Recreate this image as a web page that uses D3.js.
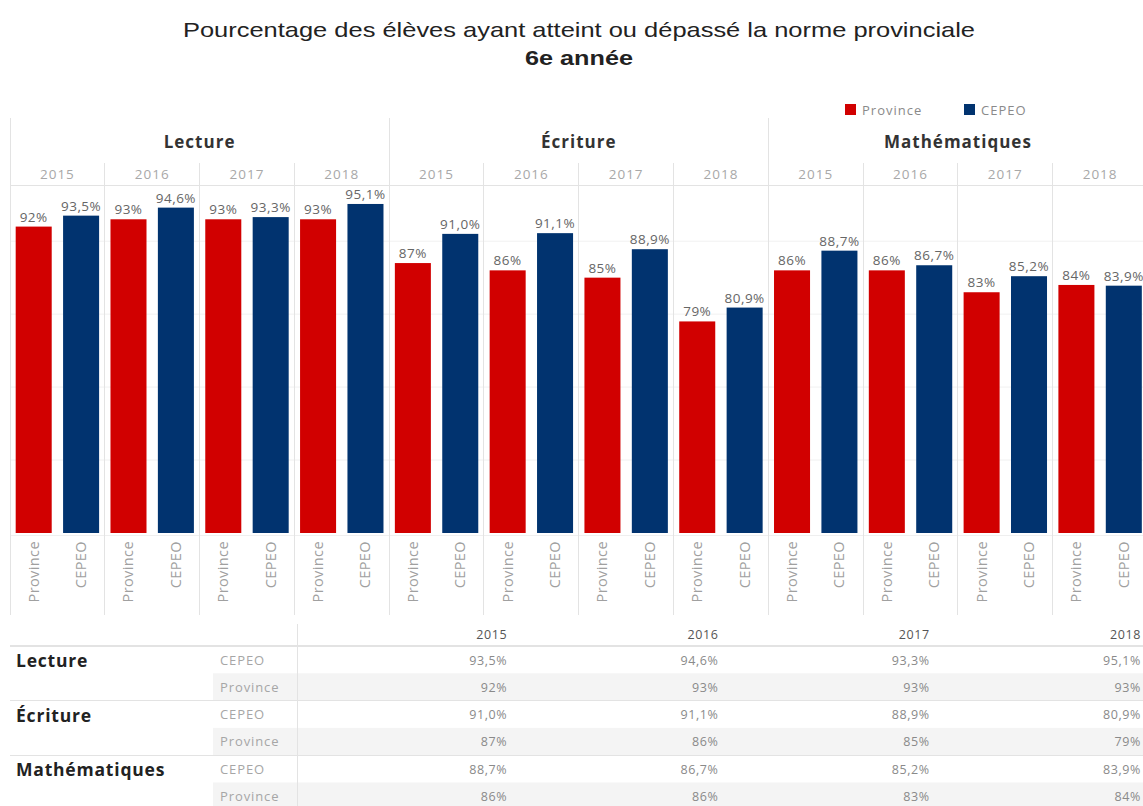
<!DOCTYPE html>
<html>
<head>
<meta charset="utf-8">
<script src="https://cdn.jsdelivr.net/npm/d3@7"></script>
<style>
  html, body { margin: 0; padding: 0; background: #fff; }
  svg { display: block; }
</style>
</head>
<body>
<svg id="chart" width="1143" height="806"></svg>
<script>
// ---- Data ----
const subjects = ["Lecture", "Écriture", "Mathématiques"];
const years = ["2015", "2016", "2017", "2018"];
const seriesNames = ["Province", "CEPEO"];
const provinceValues = [
  [92, 93, 93, 93],
  [87, 86, 85, 79],
  [86, 86, 83, 84]
];
const cepeoValues = [
  [93.5, 94.6, 93.3, 95.1],
  [91.0, 91.1, 88.9, 80.9],
  [88.7, 86.7, 85.2, 83.9]
];
const titleLine1 = "Pourcentage des élèves ayant atteint ou dépassé la norme provinciale";
const titleLine2 = "6e année";

// ---- Setup ----
const W = 1143, H = 806;
const svg = d3.select("#chart");
const red = "#d10000", blue = "#01336f";
const lineCol = "#e3e3e3";
const labelFont = "'Open Sans', 'DejaVu Sans', sans-serif";

const fmtProv = v => d3.format(".0f")(v) + "%";
const fmtCep = v => d3.format(".1f")(v).replace(".", ",") + "%";

const rows = [];
subjects.forEach((s, i) => years.forEach((y, j) => {
  rows.push({ subject: s, year: y, series: "Province", value: provinceValues[i][j], label: fmtProv(provinceValues[i][j]) });
  rows.push({ subject: s, year: y, series: "CEPEO", value: cepeoValues[i][j], label: fmtCep(cepeoValues[i][j]) });
}));

// Scales
const xSubject = d3.scaleBand().domain(subjects).range([10, 1147.5]);
const xYear = d3.scaleBand().domain(years).range([0, xSubject.bandwidth()]);
const xSeries = d3.scaleBand().domain(seriesNames).range([0, xYear.bandwidth()]).paddingInner(0.24).paddingOuter(0.12);
const color = d3.scaleOrdinal().domain(seriesNames).range([red, blue]);
const plotTop = 185, plotBottom = 533;
const y = d3.scaleLinear().domain([50, 97.7]).range([plotBottom, plotTop]);

// ---- Title ----
svg.append("text").attr("x", 579).attr("y", 37).attr("text-anchor", "middle")
  .attr("font-family", "'Liberation Sans', Arial, sans-serif").attr("font-size", 21).attr("fill", "#222")
  .attr("textLength", 792).attr("lengthAdjust", "spacingAndGlyphs")
  .text(titleLine1);
svg.append("text").attr("x", 579).attr("y", 65).attr("text-anchor", "middle")
  .attr("font-family", "'Liberation Sans', Arial, sans-serif").attr("font-size", 21).attr("font-weight", "bold").attr("fill", "#222")
  .attr("textLength", 108).attr("lengthAdjust", "spacingAndGlyphs")
  .text(titleLine2);

// ---- Legend ----
const legend = svg.append("g");
const legendX = { "Province": 845, "CEPEO": 964 };
seriesNames.forEach(s => {
  legend.append("rect").attr("x", legendX[s]).attr("y", 104).attr("width", 11).attr("height", 11).attr("fill", color(s));
  legend.append("text").attr("x", legendX[s] + 17).attr("y", 115).attr("font-family", labelFont)
    .attr("font-size", 13).attr("letter-spacing", 1).attr("fill", "#8a8a8a").text(s);
});

// ---- Gridlines ----
const grid = svg.append("g");
y.ticks(5).filter(t => t > 50).forEach(t => {
  grid.append("line").attr("x1", 10).attr("x2", W).attr("y1", y(t)).attr("y2", y(t))
    .attr("stroke", "#f1f1f1").attr("stroke-width", 1);
});

// ---- Frame lines ----
const frame = svg.append("g").attr("stroke", lineCol).attr("stroke-width", 1).attr("shape-rendering", "crispEdges");
frame.append("line").attr("x1", 10).attr("x2", W).attr("y1", plotTop).attr("y2", plotTop);
frame.append("line").attr("x1", 10).attr("x2", W).attr("y1", plotBottom + 2).attr("y2", plotBottom + 2).attr("stroke", "#efefef");
subjects.forEach(s => {
  const x0 = xSubject(s);
  frame.append("line").attr("x1", x0).attr("x2", x0).attr("y1", 118).attr("y2", 615);
  years.forEach((yr, j) => {
    if (j > 0) {
      const xx = x0 + xYear(yr);
      frame.append("line").attr("x1", xx).attr("x2", xx).attr("y1", 163).attr("y2", 615);
    }
  });
});

// ---- Headers ----
subjects.forEach(s => {
  const x0 = xSubject(s);
  svg.append("text").attr("x", x0 + xSubject.bandwidth() / 2).attr("y", 148).attr("text-anchor", "middle")
    .attr("font-family", labelFont).attr("font-size", 17).attr("letter-spacing", 1).attr("font-weight", "bold").attr("fill", "#333").text(s);
  years.forEach(yr => {
    svg.append("text").attr("x", x0 + xYear(yr) + xYear.bandwidth() / 2).attr("y", 179).attr("text-anchor", "middle")
      .attr("font-family", labelFont).attr("font-size", 13.5).attr("letter-spacing", 1).attr("fill", "#a8a8a8").text(yr);
  });
});

// ---- Bars ----
const barX = d => xSubject(d.subject) + xYear(d.year) + xSeries(d.series);
svg.append("g").selectAll("rect").data(rows).join("rect")
  .attr("x", barX).attr("width", xSeries.bandwidth())
  .attr("y", d => y(d.value)).attr("height", d => plotBottom - y(d.value))
  .attr("fill", d => color(d.series));

svg.append("g").selectAll("text").data(rows).join("text")
  .attr("x", d => barX(d) + xSeries.bandwidth() / 2).attr("y", d => y(d.value) - 5)
  .attr("text-anchor", "middle").attr("font-family", labelFont).attr("font-size", 13.5).attr("letter-spacing", 0.5)
  .attr("fill", "#666").text(d => d.label);

// ---- Rotated series labels ----
svg.append("g").selectAll("text").data(rows).join("text")
  .attr("transform", d => `translate(${barX(d) + xSeries.bandwidth() / 2 + 5},541) rotate(-90)`)
  .attr("text-anchor", "end").attr("font-family", labelFont).attr("font-size", 14.5).attr("letter-spacing", 0.4)
  .attr("fill", "#a0a0a0").text(d => d.series);

// ---- Table ----
const tableCols = d3.scaleBand().domain(years).range([297, 1142]);
const rowH = 27.3;
const headerLineY = 646;
const tableRowsOrder = ["CEPEO", "Province"];
const tg = svg.append("g");

subjects.forEach((s, i) => {
  const gy = headerLineY + i * 2 * rowH;
  tg.append("rect").attr("x", 213).attr("y", gy + rowH).attr("width", W - 213).attr("height", rowH).attr("fill", "#f4f4f4");
});
tg.append("line").attr("x1", 297).attr("x2", 297).attr("y1", 624).attr("y2", H)
  .attr("stroke", lineCol).attr("shape-rendering", "crispEdges");
[0, 1, 2].forEach(i => {
  const gy = headerLineY + i * 2 * rowH;
  tg.append("line").attr("x1", 10).attr("x2", W).attr("y1", gy).attr("y2", gy)
    .attr("stroke", lineCol).attr("stroke-width", i === 0 ? 1.5 : 1).attr("shape-rendering", "crispEdges");
});
years.forEach(yr => {
  tg.append("text").attr("x", tableCols(yr) + tableCols.bandwidth() - 1).attr("y", 639).attr("text-anchor", "end")
    .attr("font-family", labelFont).attr("font-size", 12.5).attr("letter-spacing", 0.6).attr("fill", "#555").text(yr);
});
subjects.forEach((s, i) => {
  const gy = headerLineY + i * 2 * rowH;
  tg.append("text").attr("x", 16).attr("y", gy + 21).attr("font-family", labelFont).attr("font-size", 17.5)
    .attr("letter-spacing", 0.8).attr("font-weight", "bold").attr("fill", "#222").text(s);
  tableRowsOrder.forEach((ser, k) => {
    const ry = gy + k * rowH + 18.5;
    tg.append("text").attr("x", 220).attr("y", ry).attr("font-family", labelFont).attr("font-size", 13)
      .attr("letter-spacing", 0.9).attr("fill", "#a6a6a6").text(ser);
    years.forEach((yr, j) => {
      const v = ser === "CEPEO" ? cepeoValues[i][j] : provinceValues[i][j];
      tg.append("text").attr("x", tableCols(yr) + tableCols.bandwidth() - 1).attr("y", ry).attr("text-anchor", "end")
        .attr("font-family", labelFont).attr("font-size", 12.5).attr("letter-spacing", 0.6).attr("fill", "#8a8a8a")
        .text(ser === "CEPEO" ? fmtCep(v) : fmtProv(v));
    });
  });
});
</script>
</body>
</html>
